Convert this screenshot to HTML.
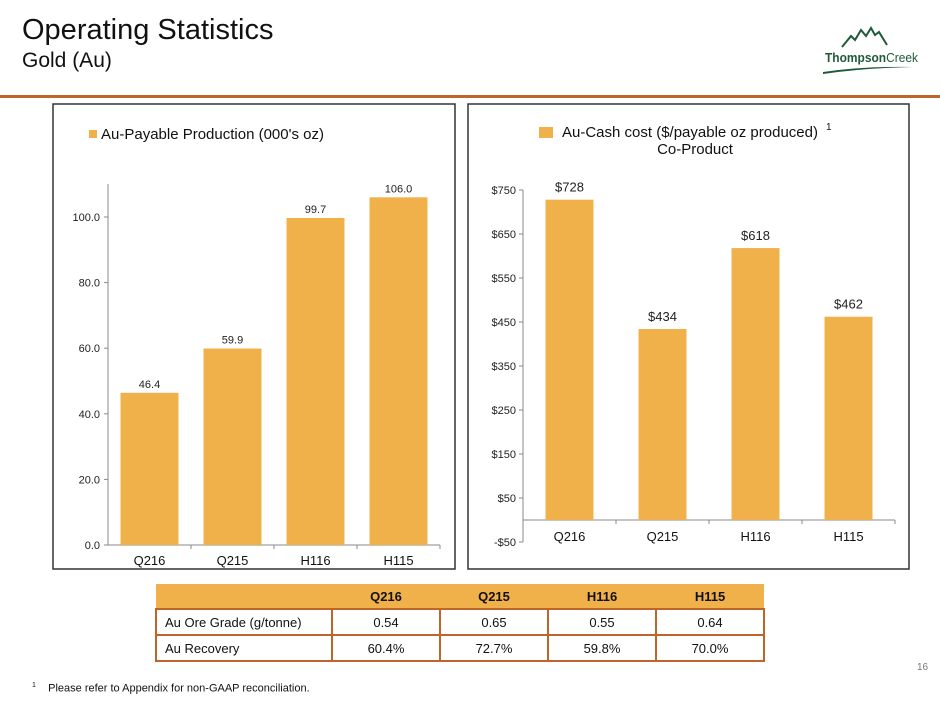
<!DOCTYPE html>
<html><head><meta charset="utf-8"><style>
body{margin:0;width:940px;height:705px;background:#fff;font-family:"Liberation Sans",sans-serif;position:relative;overflow:hidden}
.abs{position:absolute}
table{border-collapse:collapse;font-size:13px;color:#111}
td{border:2px solid #c0652a;text-align:center;height:24px;padding:0}
</style></head><body>
<div class="abs" style="left:22px;top:14px;font-size:29px;color:#111">Operating Statistics</div>
<div class="abs" style="left:22px;top:49px;font-size:21px;color:#111">Gold (Au)</div>
<svg class="abs" style="left:815px;top:20px" width="120" height="60">
<polyline points="27,27 36,16 40,20 46,10 51,16 56,8 60,15 64,12 72,25" fill="none" stroke="#1f5a3a" stroke-width="2"/>
<text x="10" y="42" font-family="Liberation Sans Narrow, Liberation Sans, sans-serif" font-size="13" fill="#1f5a3a" font-weight="bold" textLength="93" lengthAdjust="spacingAndGlyphs">Thompson<tspan font-weight="normal">Creek</tspan></text>
<path d="M8,52 Q50,46 98,47 Q50,48 8,54Z" fill="#1f5a3a"/>
</svg>
<div class="abs" style="left:0;top:95px;width:940px;height:3px;background:#c0652a"></div>

<svg class="abs" style="left:0;top:0" width="940" height="705">
<rect x="53" y="104" width="402" height="465" fill="none" stroke="#333" stroke-width="1.5"/>
<rect x="468" y="104" width="441" height="465" fill="none" stroke="#333" stroke-width="1.5"/>
<g id="left"></g><g id="right"></g>
</svg>

<table class="abs" style="left:155px;top:584px;width:610px">
<tr style="background:#f0b04a;font-weight:bold"><td style="border:none;width:176px"></td><td style="border:none">Q216</td><td style="border:none">Q215</td><td style="border:none">H116</td><td style="border:none">H115</td></tr>
<tr><td style="text-align:left;padding-left:8px">Au Ore Grade (g/tonne)</td><td>0.54</td><td>0.65</td><td>0.55</td><td>0.64</td></tr>
<tr><td style="text-align:left;padding-left:8px">Au Recovery</td><td>60.4%</td><td>72.7%</td><td>59.8%</td><td>70.0%</td></tr>
</table>
<div class="abs" style="left:917px;top:662px;font-size:10px;color:#777">16</div>
<div class="abs" style="left:32px;top:682px;font-size:11px;color:#111"><sup style="font-size:7px">1</sup>&nbsp;&nbsp;&nbsp;&nbsp;Please refer to Appendix for non-GAAP reconciliation.</div>

<script>
const categories=["Q216","Q215","H116","H115"];
const production=[46.4,59.9,99.7,106.0];
const productionLabels=["46.4","59.9","99.7","106.0"];
const prodTicks=[0,20,40,60,80,100];
const cashCost=[728,434,618,462];
const cashTicks=[-50,50,150,250,350,450,550,650,750];
const NS="http://www.w3.org/2000/svg";
const C="#f0b04a";
function mk(p,t,a,txt){const e=document.createElementNS(NS,t);for(const k in a)e.setAttribute(k,a[k]);if(txt!==undefined)e.textContent=txt;p.appendChild(e);return e;}
// left chart
(function(){
const g=document.getElementById('left');
const x0=108,x1=440,yTop=184;
const y=v=>545-v*3.28;
const bw=(x1-x0)/categories.length;
let e;
e=mk(g,'line',{x1:x0,y1:yTop,x2:x0,y2:y(0),stroke:'#888'});

e=mk(g,'line',{x1:x0,y1:y(0),x2:x1,y2:y(0),stroke:'#888'});

prodTicks.forEach(t=>{
 mk(g,'line',{x1:x0-4,y1:y(t),x2:x0,y2:y(t),stroke:'#888'});
 e=mk(g,'text',{x:x0-8,y:y(t)+4,'text-anchor':'end','font-size':11,fill:'#222'},t.toFixed(1));
 
});
categories.forEach((c,i)=>{
 const cx=x0+bw*(i+0.5);
 mk(g,'line',{x1:x0+bw*(i+1),y1:y(0),x2:x0+bw*(i+1),y2:y(0)+4,stroke:'#888'});
 e=mk(g,'rect',{x:cx-29,y:y(production[i]),width:58,height:y(0)-y(production[i]),fill:C});
 
 e=mk(g,'text',{x:cx,y:y(production[i])-5,'text-anchor':'middle','font-size':11,fill:'#222'},productionLabels[i]);
 
 e=mk(g,'text',{x:cx,y:y(0)+20,'text-anchor':'middle','font-size':13,fill:'#111'},c);
 
});
e=mk(g,'rect',{x:89,y:130,width:8,height:8,fill:C});

e=mk(g,'text',{x:101,y:139,'font-size':15,fill:'#111'},"Au-Payable Production (000's oz)");

})();
// right chart
(function(){
const g=document.getElementById('right');
const x0=523,x1=895;
const y=v=>520-v*0.44;
const bw=(x1-x0)/categories.length;
let e;
e=mk(g,'line',{x1:x0,y1:y(750),x2:x0,y2:y(-50),stroke:'#888'});

e=mk(g,'line',{x1:x0,y1:y(0),x2:x1,y2:y(0),stroke:'#888'});

cashTicks.forEach(t=>{
 mk(g,'line',{x1:x0-4,y1:y(t),x2:x0,y2:y(t),stroke:'#888'});
 e=mk(g,'text',{x:x0-7,y:y(t)+4,'text-anchor':'end','font-size':11,fill:'#222'},(t<0?'-$':'$')+Math.abs(t));
 
});
categories.forEach((c,i)=>{
 const cx=x0+bw*(i+0.5);
 mk(g,'line',{x1:x0+bw*(i+1),y1:y(0),x2:x0+bw*(i+1),y2:y(0)+4,stroke:'#888'});
 e=mk(g,'rect',{x:cx-24,y:y(cashCost[i]),width:48,height:y(0)-y(cashCost[i]),fill:C});
 
 e=mk(g,'text',{x:cx,y:y(cashCost[i])-8,'text-anchor':'middle','font-size':13,fill:'#222'},'$'+cashCost[i]);
 
 e=mk(g,'text',{x:cx,y:y(0)+21,'text-anchor':'middle','font-size':13,fill:'#111'},c);
 
});
e=mk(g,'rect',{x:539,y:127,width:14,height:11,fill:C});

e=mk(g,'text',{x:562,y:137,'font-size':15,fill:'#111'},"Au-Cash cost ($/payable oz produced)");

mk(g,'text',{x:826,y:130,'font-size':10,fill:'#111'},"1");
e=mk(g,'text',{x:695,y:154,'text-anchor':'middle','font-size':15,fill:'#111'},"Co-Product");

})();
</script>
</body></html>
